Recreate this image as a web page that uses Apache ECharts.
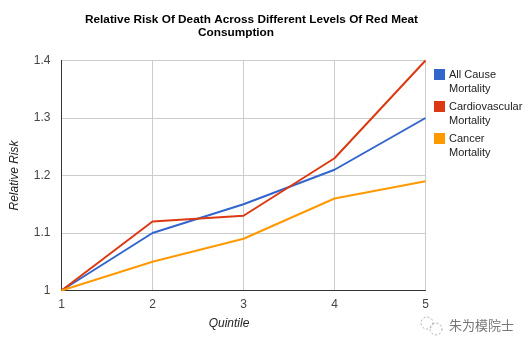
<!DOCTYPE html>
<html><head><meta charset="utf-8">
<style>html,body{margin:0;padding:0;background:#fff}#c{width:530px;height:350px}</style>
<script src="https://cdn.jsdelivr.net/npm/echarts@6/dist/echarts.min.js"></script>
</head><body><div id="c"></div>
<script>
var quintiles = ['1','2','3','4','5'];
var allCause = [1, 1.1, 1.15, 1.21, 1.3];
var cardio = [1, 1.12, 1.13, 1.23, 1.4];
var cancer = [1, 1.05, 1.09, 1.16, 1.19];
var seriesNames = ['All Cause\nMortality','Cardiovascular\nMortality','Cancer\nMortality'];
var colors = ['#3366cc','#dc3912','#ff9900'];
var font = 'Arial, "Liberation Sans", sans-serif';
var chart = echarts.init(document.getElementById('c'), null, {renderer:'canvas'});
function line(name, data, color, z){
  return {name:name,type:'line',data:data,symbol:'none',z:z,animation:false,
    lineStyle:{color:color,width:2},itemStyle:{color:color}};
}
var titleStyle = {fontFamily:font,fontSize:11.8,fontWeight:'bold',color:'#000'};
chart.setOption({
  animation:false,
  backgroundColor:'#fff',
  title:[
    {text:'Relative Risk Of Death Across Different Levels Of Red Meat',left:251.5,top:13.5,padding:0,textAlign:'center',textStyle:titleStyle},
    {text:'Consumption',left:236,top:27,padding:0,textAlign:'center',textStyle:titleStyle}
  ],
  grid:{left:61.5,top:60.5,width:364,height:230,containLabel:false,outerBoundsMode:'none'},
  legend:{orient:'vertical',left:434,top:68,padding:0,itemWidth:11,itemHeight:28,itemGap:4,
    icon:'path://M0,1H11V12H0Z M0,0H0.01V0.01H0Z M0,28H0.01V28.01H0Z',
    align:'left',selectedMode:false,
    itemStyle:{borderWidth:0},lineStyle:{width:0},
    textStyle:{fontFamily:font,fontSize:11,color:'#222',lineHeight:14,padding:[0,0,0,-1]},
    data:seriesNames},
  xAxis:{type:'category',boundaryGap:false,data:quintiles,name:'Quintile',nameLocation:'middle',nameGap:27,
    nameTextStyle:{fontFamily:font,fontSize:12,fontStyle:'italic',color:'#222',padding:[0,29,0,0]},
    axisLine:{onZero:false,lineStyle:{color:'#333',width:1}},
    axisTick:{show:false},
    axisLabel:{fontFamily:font,fontSize:12,color:'#444',margin:8,showMinLabel:true,showMaxLabel:true},
    splitLine:{show:true,lineStyle:{color:'#cccccc',width:1}}},
  yAxis:{type:'value',min:1,max:1.4,interval:0.1,name:'Relative Risk',nameLocation:'middle',nameGap:41,
    nameRotate:90,
    nameTextStyle:{fontFamily:font,fontSize:12,fontStyle:'italic',color:'#222'},
    axisLine:{show:true,lineStyle:{color:'#333',width:1}},
    axisTick:{show:false},
    axisLabel:{fontFamily:font,fontSize:12,color:'#444',margin:11},
    splitLine:{show:true,lineStyle:{color:'#cccccc',width:1}}},
  series:[line(seriesNames[0],allCause,colors[0],3),
          line(seriesNames[1],cardio,colors[1],4),
          line(seriesNames[2],cancer,colors[2],5)],
  graphic:[
    {type:'text',left:449,top:319,silent:true,style:{text:'朱为模院士',fontFamily:'"Noto Sans CJK SC"',fontSize:13,fill:'#777'}},
    {type:'circle',silent:true,shape:{cx:427,cy:323,r:6},style:{fill:'none',stroke:'#aaa',lineWidth:1,lineDash:[2,2]}},
    {type:'circle',silent:true,shape:{cx:436,cy:329,r:6},style:{fill:'none',stroke:'#aaa',lineWidth:1,lineDash:[2,2]}}
  ]
});
</script></body></html>
